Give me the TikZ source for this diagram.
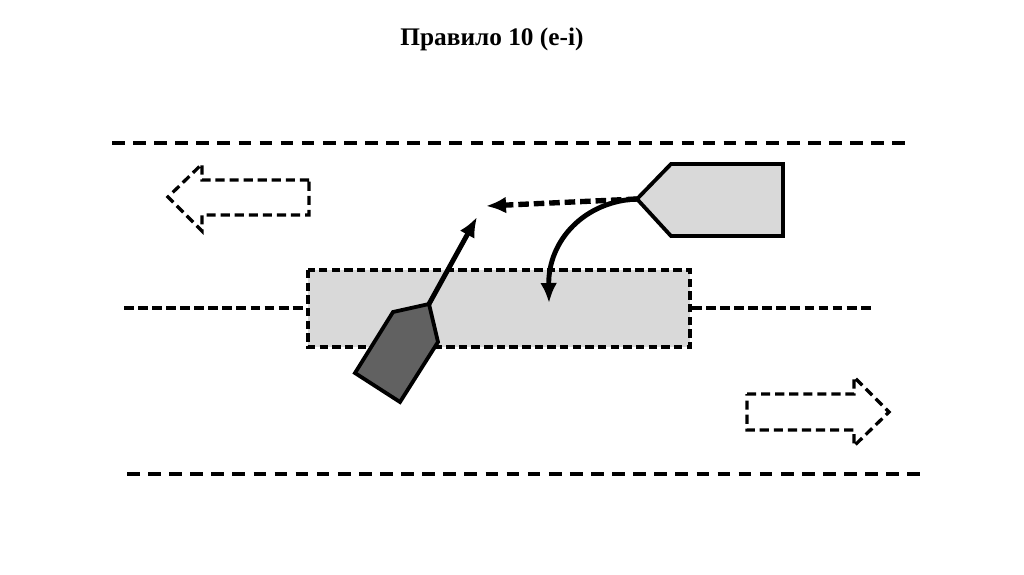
\documentclass[tikz,border=0pt]{standalone}
\usepackage{fontspec}
\setmainfont{Liberation Serif}
\usetikzlibrary{arrows.meta}

\begin{document}
\begin{tikzpicture}[
  x=0.025cm, y=-0.025cm,
  >={Latex[length=5mm, width=4.2mm]},
  lane/.style={line width=3.2pt, dash pattern=on 9pt off 6pt},
  midline/.style={line width=2.6pt, dash pattern=on 7pt off 3pt},
  zone/.style={draw, line width=2.3pt, fill=black!15, dash pattern=on 6pt off 3pt},
  hollow/.style={draw, line width=2.3pt, dash pattern=on 6.5pt off 3.5pt},
  boat/.style={draw, line width=2.7pt, line join=miter},
  move/.style={->, line width=3.5pt},
  movedash/.style={move, line width=3.8pt, dash pattern=on 7.5pt off 3.5pt},
]
\useasboundingbox (0,0) rectangle (1024,574);

% ---- title -----------------------------------------------------------------
\node[font=\fontsize{18}{21}\selectfont\bfseries] (title) at (492,39) {Правило 10 (е-і)};

% ---- fairway ---------------------------------------------------------------
\draw[lane] (112,143) -- (910,143);
\draw[lane] (127,474) -- (926,474);
\path[zone] (308,270) rectangle (690,347);
\draw[midline] (124,308) -- (306,308);
\draw[midline] (692,308) -- (872,308);

% ---- traffic directions ------------------------------------------------------
\path[hollow] (309,180) -- (202,180) -- (202,164) -- (168,197) -- (202,231)
  -- (202,215) -- (309,215) -- cycle;
\path[hollow] (747,394) -- (854,394) -- (854,377) -- (889,412) -- (854,446)
  -- (854,430) -- (747,430) -- cycle;

% ---- vessels ---------------------------------------------------------------
\path[boat, fill=black!15] (637,199) -- (671,164) -- (783,164) -- (783,236)
  -- (671,236) -- cycle;
\path[boat, fill=black!62] (429,304) -- (393,312) -- (355,373) -- (400,402)
  -- (438,342) -- cycle;
\coordinate (bowA) at (637,199);
\coordinate (bowB) at (429,304);
\coordinate (aheadA) at (486,206);
\coordinate (turnA) at (549,303);
\coordinate (aheadB) at (477,217);

% ---- intended courses --------------------------------------------------------
\draw[movedash] (bowA) -- (aheadA);
\draw[move] (bowA) .. controls (585,201) and (548,240) .. (turnA);
\draw[move] (bowB) -- (aheadB);
\end{tikzpicture}
\end{document}
